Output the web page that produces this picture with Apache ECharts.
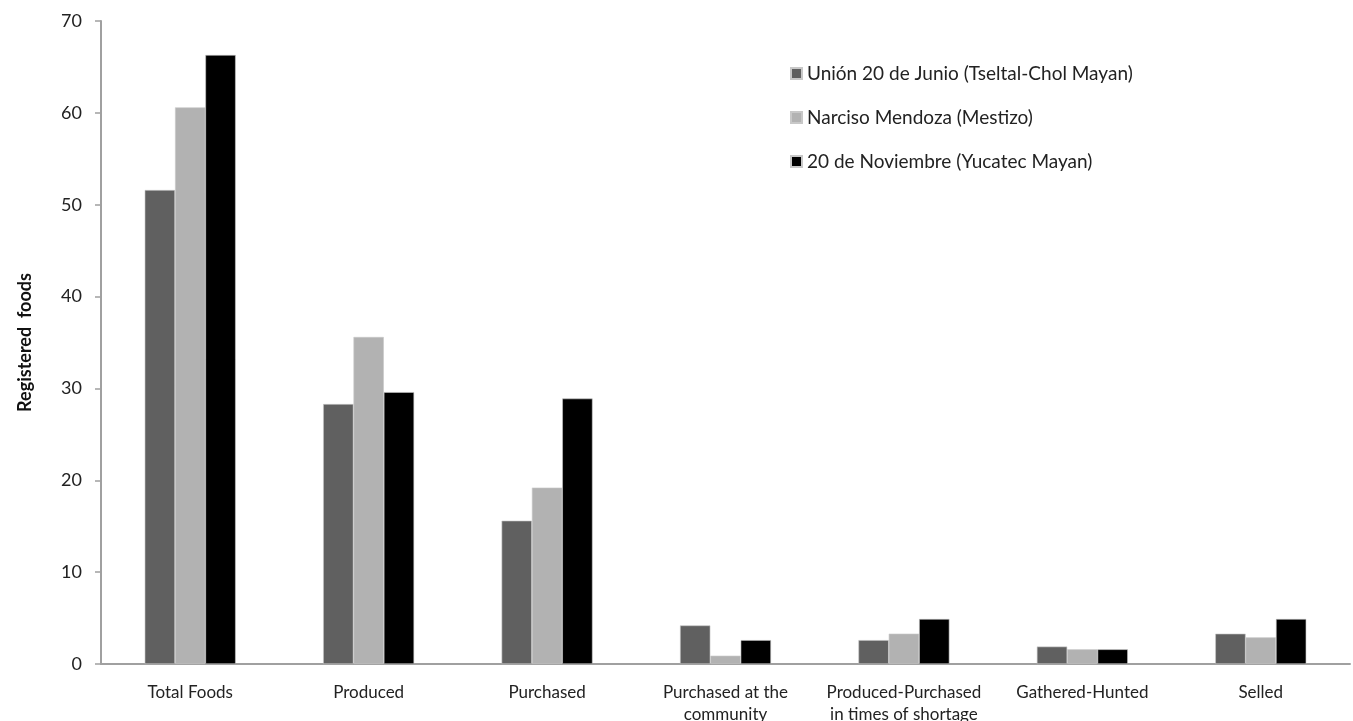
<!DOCTYPE html>
<html>
<head>
<meta charset="utf-8">
<script src="https://cdn.jsdelivr.net/npm/echarts@6/dist/echarts.min.js"></script>
<style>
  html, body { margin: 0; padding: 0; background: #fff; }
  #chart { width: 1353px; height: 721px; }
</style>
</head>
<body>
<div id="chart"></div>
<script>
// Food categories on the x axis
const categories = [
  'Total Foods',
  'Produced',
  'Purchased',
  'Purchased at the\ncommunity',
  'Produced-Purchased\nin times of shortage',
  'Gathered-Hunted',
  'Selled'
];

// Community names (legend entries)
const seriesNames = [
  'Unión 20 de Junio (Tseltal-Chol Mayan)',
  'Narciso Mendoza (Mestizo)',
  '20 de Noviembre (Yucatec Mayan)'
];

// Registered foods per community
const union20Junio   = [51.6, 28.3, 15.6, 4.2, 2.6, 1.9, 3.3];
const narcisoMendoza = [60.6, 35.6, 19.2, 0.9, 3.3, 1.6, 2.9];
const noviembre20    = [66.3, 29.6, 28.9, 2.6, 4.9, 1.6, 4.9];

const yTicks = [0, 10, 20, 30, 40, 50, 60, 70];

const colors = ['#606060', '#b2b2b2', '#000000'];
const font = 'Lato, "Open Sans", sans-serif';

const chart = echarts.init(document.getElementById('chart'));

const seriesData = [union20Junio, narcisoMendoza, noviembre20];

chart.setOption({
  animation: false,
  textStyle: { fontFamily: font },
  grid: { left: 101, right: 3, top: 21, bottom: 57, containLabel: false, outerBoundsMode: 'none' },
  legend: {
    orient: 'vertical',
    left: 785,
    top: 59,
    itemWidth: 11,
    itemHeight: 11,
    itemGap: 25,
    icon: 'rect',
    textStyle: { fontFamily: font, fontSize: 19, color: '#222', padding: [0, 0, 0, 0] },
    data: seriesNames
  },
  xAxis: {
    type: 'category',
    data: categories,
    axisLine: { lineStyle: { color: '#a0a0a0', width: 2 } },
    axisTick: { show: false },
    axisLabel: {
      fontFamily: font,
      fontSize: 17,
      color: '#222',
      margin: 18,
      lineHeight: 22,
      interval: 0
    }
  },
  yAxis: {
    type: 'value',
    min: yTicks[0],
    max: yTicks[yTicks.length - 1],
    interval: 10,
    name: 'Registered  foods',
    nameLocation: 'middle',
    nameGap: 67,
    nameRotate: 90,
    nameTextStyle: { fontFamily: font, fontSize: 18, fontWeight: 'bold', color: '#111' },
    axisLine: { show: true, lineStyle: { color: '#a0a0a0', width: 2 } },
    axisTick: { show: true, length: 6, lineStyle: { color: '#a0a0a0', width: 1.5 } },
    splitLine: { show: false },
    axisLabel: { fontFamily: font, fontSize: 18, color: '#222', margin: 19 }
  },
  series: seriesNames.map((name, i) => ({
    name,
    type: 'bar',
    data: seriesData[i],
    barGap: '0%',
    barCategoryGap: '49%',
    itemStyle: { color: colors[i], borderColor: '#c8c8c8', borderWidth: 0.6 }
  }))
});
</script>
</body>
</html>
